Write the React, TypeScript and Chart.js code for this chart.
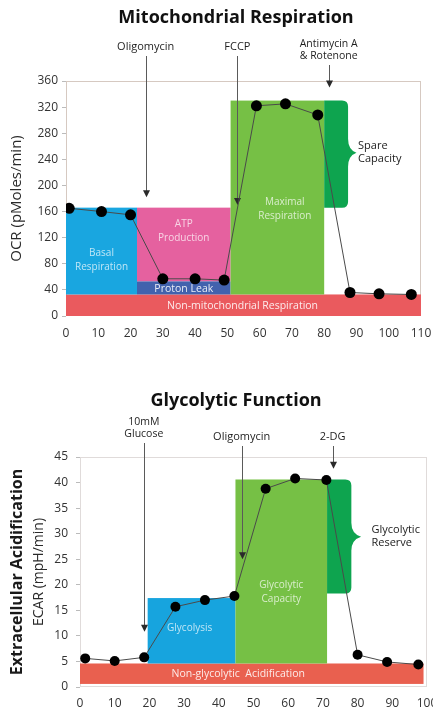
import React, { useEffect, useRef } from "react";
import { Chart, registerables } from "chart.js";

Chart.register(...registerables);

// ---------------- DATA: Mitochondrial Respiration ----------------
const ocrTitle = "Mitochondrial Respiration";
const ocrAxisTitle = "OCR (pMoles/min)";
const ocrTime = [1, 11, 20, 30, 40, 49, 59, 68, 78, 88, 97, 107];
const ocrValues = [165, 160, 155, 57, 57, 55, 322, 325, 308, 36, 34, 33];
const ocrXRange = [0, 110, 10];
const ocrYRange = [0, 360, 40];

const ocrRegionLabels = ["Non-mitochondrial Respiration", "Basal\nRespiration", "ATP\nProduction", "Proton Leak", "Maximal\nRespiration"];
const ocrRegionX0 = [0, 0, 22, 22, 51];
const ocrRegionX1 = [110, 22, 51, 51, 80];
const ocrRegionY0 = [0, 33, 53, 33, 33];
const ocrRegionY1 = [33, 166, 166, 53, 330];
const ocrRegionLabelX = [54.7, 11, 36.5, 36.5, 67.8];
const ocrRegionLabelY = [15, 86, 130, 41, 164];

const ocrBracketLabel = "Spare\nCapacity";
const ocrBracketX = [80, 87.4, 90, 90.5]; // left, right, tip, label
const ocrBracketY = [166, 330, 250];       // bottom, top, tip

const ocrInjections = ["Oligomycin", "FCCP", "Antimycin A\n& Rotenone"];
const ocrInjectionTime = [24.7, 53.1, 81.4];
const ocrInjectionArrowTo = [182, 170, 350];

// ---------------- DATA: Glycolytic Function ----------------
const ecarTitle = "Glycolytic Function";
const ecarAxisTitleBold = "Extracellular Acidification";
const ecarAxisTitle = "ECAR (mpH/min)";
const ecarTime = [1.5, 10, 18.5, 27.5, 36, 44.5, 53.5, 62, 71, 80, 88.5, 97.5];
const ecarValues = [5.6, 5.1, 5.8, 15.7, 17, 17.8, 38.8, 40.8, 40.5, 6.3, 4.9, 4.4];
const ecarXRange = [0, 100, 10];
const ecarYRange = [0, 45, 5];

const ecarRegionLabels = ["Non-glycolytic  Acidification", "Glycolysis", "Glycolytic\nCapacity"];
const ecarRegionX0 = [0, 19.5, 44.8];
const ecarRegionX1 = [99, 44.8, 71.2];
const ecarRegionY0 = [0.6, 4.6, 4.6];
const ecarRegionY1 = [4.6, 17.4, 40.6];
const ecarRegionLabelX = [45.6, 31.6, 58];
const ecarRegionLabelY = [2.5, 11.5, 18.6];

const ecarBracketLabel = "Glycolytic\nReserve";
const ecarBracketX = [71.2, 78.2, 81, 84];
const ecarBracketY = [18.3, 40.6, 29.4];

const ecarInjections = ["10mM\nGlucose", "Oligomycin", "2-DG"];
const ecarInjectionTime = [18.4, 46.6, 72.8];
const ecarInjectionArrowTo = [10.8, 25, 42.7];

// ---------------- STYLES / LAYOUT ----------------
const FONT = "'Open Sans', 'DejaVu Sans', sans-serif";
const ocrRegionColors = ["#ea5a5e", "#19a6e0", "#e5619f", "#4262ad", "#76c045"];
const ecarRegionColors = ["#e9604f", "#17a4de", "#76c045"];
const bracketColor = "#0ea44f";

type Spec = {
  title: string;
  titleY: number;
  titleX: number;
  axisTitle: string;
  axisTitleSize: number;
  axisTitlePad: number;
  boldAxisTitle?: string;
  boldAxisTitleX?: number;
  xs: number[];
  ys: number[];
  xRange: number[];
  yRange: number[];
  width: number;
  height: number;
  padTop: number;
  padRight: number;
  yAxisWidth: number;
  xAxisHeight: number;
  yTickPad: number;
  xTickPad: number;
  pointRadius: number;
  borderColor: string;
  regionLabels: string[];
  regionX0: number[];
  regionX1: number[];
  regionY0: number[];
  regionY1: number[];
  regionLabelX: number[];
  regionLabelY: number[];
  regionColors: string[];
  bracketLabel: string;
  bracketX: number[];
  bracketY: number[];
  injections: string[];
  injectionTime: number[];
  injectionArrowTo: number[];
  injectionLabelOffset: number[]; // px above chart top for last line centre
};

function drawBracket(ctx: CanvasRenderingContext2D, x0: number, x1: number, yTop: number, yBot: number, tipX: number, tipY: number) {
  const r = 6;
  ctx.beginPath();
  ctx.moveTo(x0, yTop);
  ctx.lineTo(x1 - r, yTop);
  ctx.quadraticCurveTo(x1, yTop, x1, yTop + r);
  ctx.lineTo(x1, tipY - 14);
  ctx.quadraticCurveTo(x1, tipY - 3, tipX, tipY);
  ctx.quadraticCurveTo(x1, tipY + 3, x1, tipY + 14);
  ctx.lineTo(x1, yBot - r);
  ctx.quadraticCurveTo(x1, yBot, x1 - r, yBot);
  ctx.lineTo(x0, yBot);
  ctx.closePath();
  ctx.fill();
}

function drawLines(ctx: CanvasRenderingContext2D, text: string, x: number, cy: number, lh: number) {
  const lines = text.split("\n");
  const start = cy - ((lines.length - 1) * lh) / 2;
  lines.forEach((l, i) => ctx.fillText(l, x, start + i * lh));
}

function makeOverlay(s: Spec) {
  return {
    id: "overlay",
    beforeDatasetsDraw(chart: any) {
      const { ctx, chartArea: a, scales } = chart;
      const x = scales.x;
      const y = scales.y;
      const px = (v: number) => x.getPixelForValue(v);
      const py = (v: number) => y.getPixelForValue(v);
      ctx.save();
      // plot frame
      ctx.strokeStyle = s.borderColor;
      ctx.lineWidth = 1;
      ctx.strokeRect(a.left + 0.5, a.top + 0.5, a.width - 1, a.height - 1);
      // regions
      s.regionLabels.forEach((_, i) => {
        ctx.fillStyle = s.regionColors[i];
        const l = px(s.regionX0[i]);
        const r = px(s.regionX1[i]);
        const t = py(s.regionY1[i]);
        const b = py(s.regionY0[i]);
        ctx.fillRect(l, t, r - l, b - t);
      });
      // bracket
      ctx.fillStyle = bracketColor;
      drawBracket(ctx, px(s.bracketX[0]), px(s.bracketX[1]), py(s.bracketY[1]), py(s.bracketY[0]), px(s.bracketX[2]), py(s.bracketY[2]));
      // region labels
      ctx.textAlign = "center";
      ctx.textBaseline = "middle";
      s.regionLabels.forEach((lab, i) => {
        const bright = i === 0 || lab === "Proton Leak";
        ctx.fillStyle = bright ? "rgba(255,255,255,0.88)" : "rgba(255,255,255,0.72)";
        ctx.font = `${bright ? 10.5 : 10}px ${FONT}`;
        drawLines(ctx, lab, px(s.regionLabelX[i]), py(s.regionLabelY[i]), 14);
      });
      // bracket label
      ctx.textAlign = "left";
      ctx.fillStyle = "#222";
      ctx.font = `11px ${FONT}`;
      drawLines(ctx, s.bracketLabel, px(s.bracketX[3]), py(s.bracketY[2]), 13);
      // injection arrows
      s.injections.forEach((lab, i) => {
        const cx = px(s.injectionTime[i]);
        const lastY = a.top - s.injectionLabelOffset[i];
        const lines = lab.split("\n");
        ctx.fillStyle = "#1e1e1e";
        ctx.textAlign = "center";
        ctx.font = `${lines.length > 1 ? 10.5 : 11}px ${FONT}`;
        lines.forEach((l, k) => ctx.fillText(l, cx, lastY - (lines.length - 1 - k) * 12));
        const yEnd = py(s.injectionArrowTo[i]);
        ctx.strokeStyle = "#5a5a5a";
        ctx.lineWidth = 1;
        ctx.beginPath();
        ctx.moveTo(Math.round(cx) + 0.5, lastY + 9);
        ctx.lineTo(Math.round(cx) + 0.5, yEnd - 6);
        ctx.stroke();
        ctx.fillStyle = "#2a2a2a";
        ctx.beginPath();
        ctx.moveTo(Math.round(cx) + 0.5 - 3.5, yEnd - 7);
        ctx.lineTo(Math.round(cx) + 0.5 + 3.5, yEnd - 7);
        ctx.lineTo(Math.round(cx) + 0.5, yEnd);
        ctx.closePath();
        ctx.fill();
      });
      ctx.restore();
    },
    afterDraw(chart: any) {
      const { ctx, chartArea: a } = chart;
      ctx.save();
      ctx.fillStyle = "#111";
      ctx.font = `bold 18px ${FONT}`;
      ctx.textAlign = "center";
      ctx.textBaseline = "middle";
      ctx.fillText(s.title, s.titleX, s.titleY);
      if (s.boldAxisTitle) {
        ctx.translate(s.boldAxisTitleX!, (a.top + a.bottom) / 2);
        ctx.rotate(-Math.PI / 2);
        ctx.font = `bold 16px ${FONT}`;
        ctx.fillStyle = "#1a1a1a";
        ctx.fillText(s.boldAxisTitle, 0, 0);
      }
      ctx.restore();
    },
  };
}

function buildChart(canvas: HTMLCanvasElement, s: Spec) {
  return new Chart(canvas, {
    type: "line",
    data: {
      datasets: [
        {
          data: s.xs.map((v, i) => ({ x: v, y: s.ys[i] })),
          borderColor: "#4a4a4a",
          borderWidth: 1,
          pointRadius: s.pointRadius,
          pointBackgroundColor: "#000",
          pointBorderColor: "#000",
          pointBorderWidth: 0,
          tension: 0,
        },
      ],
    },
    options: {
      responsive: false,
      animation: false,
      layout: { padding: { top: s.padTop, right: s.padRight, bottom: 0, left: 0 } },
      plugins: { legend: { display: false }, tooltip: { enabled: false }, title: { display: false } },
      scales: {
        x: {
          type: "linear",
          min: s.xRange[0],
          max: s.xRange[1],
          ticks: { stepSize: s.xRange[2], color: "#333", font: { family: FONT, size: 12 }, padding: s.xTickPad, maxRotation: 0, autoSkip: false },
          grid: { display: false, drawTicks: false },
          border: { display: false },
          afterFit: (sc: any) => {
            sc.height = s.xAxisHeight;
            sc.paddingLeft = 0;
            sc.paddingRight = 0;
          },
        },
        y: {
          type: "linear",
          min: s.yRange[0],
          max: s.yRange[1],
          ticks: { stepSize: s.yRange[2], color: "#333", font: { family: FONT, size: 12 }, padding: s.yTickPad },
          grid: { display: true, drawOnChartArea: false, drawTicks: true, tickLength: 4, color: "#bbb" },
          border: { display: false },
          title: { display: true, text: s.axisTitle, color: "#2a2a2a", font: { family: FONT, size: s.axisTitleSize }, padding: { top: s.axisTitlePad, bottom: 0 } },
          afterFit: (sc: any) => {
            sc.width = s.yAxisWidth;
            sc.paddingTop = 0;
            sc.paddingBottom = 0;
          },
        },
      },
    } as any,
    plugins: [makeOverlay(s) as any],
  });
}

const ocrSpec: Spec = {
  title: ocrTitle,
  titleX: 236,
  titleY: 18,
  axisTitle: ocrAxisTitle,
  axisTitleSize: 15,
  axisTitlePad: 8,
  xs: ocrTime,
  ys: ocrValues,
  xRange: ocrXRange,
  yRange: ocrYRange,
  width: 433,
  height: 350,
  padTop: 81,
  padRight: 12,
  yAxisWidth: 66,
  xAxisHeight: 34,
  yTickPad: 4,
  xTickPad: 10,
  pointRadius: 5.5,
  borderColor: "#d6c9c1",
  regionLabels: ocrRegionLabels,
  regionX0: ocrRegionX0,
  regionX1: ocrRegionX1,
  regionY0: ocrRegionY0,
  regionY1: ocrRegionY1,
  regionLabelX: ocrRegionLabelX,
  regionLabelY: ocrRegionLabelY,
  regionColors: ocrRegionColors,
  bracketLabel: ocrBracketLabel,
  bracketX: ocrBracketX,
  bracketY: ocrBracketY,
  injections: ocrInjections,
  injectionTime: ocrInjectionTime,
  injectionArrowTo: ocrInjectionArrowTo,
  injectionLabelOffset: [34, 34, 25],
};

const ecarSpec: Spec = {
  title: ecarTitle,
  titleX: 236,
  titleY: 29,
  axisTitle: ecarAxisTitle,
  axisTitleSize: 14,
  axisTitlePad: 31,
  boldAxisTitle: ecarAxisTitleBold,
  boldAxisTitleX: 17,
  xs: ecarTime,
  ys: ecarValues,
  xRange: ecarXRange,
  yRange: ecarYRange,
  width: 433,
  height: 340,
  padTop: 85,
  padRight: 6,
  yAxisWidth: 80,
  xAxisHeight: 25,
  yTickPad: 8,
  xTickPad: 9,
  pointRadius: 5,
  borderColor: "#e0dbda",
  regionLabels: ecarRegionLabels,
  regionX0: ecarRegionX0,
  regionX1: ecarRegionX1,
  regionY0: ecarRegionY0,
  regionY1: ecarRegionY1,
  regionLabelX: ecarRegionLabelX,
  regionLabelY: ecarRegionLabelY,
  regionColors: ecarRegionColors,
  bracketLabel: ecarBracketLabel,
  bracketX: ecarBracketX,
  bracketY: ecarBracketY,
  injections: ecarInjections,
  injectionTime: ecarInjectionTime,
  injectionArrowTo: ecarInjectionArrowTo,
  injectionLabelOffset: [23, 20, 20],
};

function ChartCanvas({ spec, top }: { spec: Spec; top: number }) {
  const ref = useRef<HTMLCanvasElement>(null);
  useEffect(() => {
    const chart = buildChart(ref.current!, spec);
    return () => chart.destroy();
  }, [spec]);
  return (
    <canvas
      ref={ref}
      width={spec.width}
      height={spec.height}
      style={{ position: "absolute", left: 0, top, width: spec.width, height: spec.height, display: "block" }}
    />
  );
}

export default function App() {
  return (
    <div style={{ position: "absolute", left: 0, top: 0, width: 433, height: 712, background: "#fff", overflow: "hidden" }}>
      <ChartCanvas spec={ocrSpec} top={0} />
      <ChartCanvas spec={ecarSpec} top={372} />
    </div>
  );
}
